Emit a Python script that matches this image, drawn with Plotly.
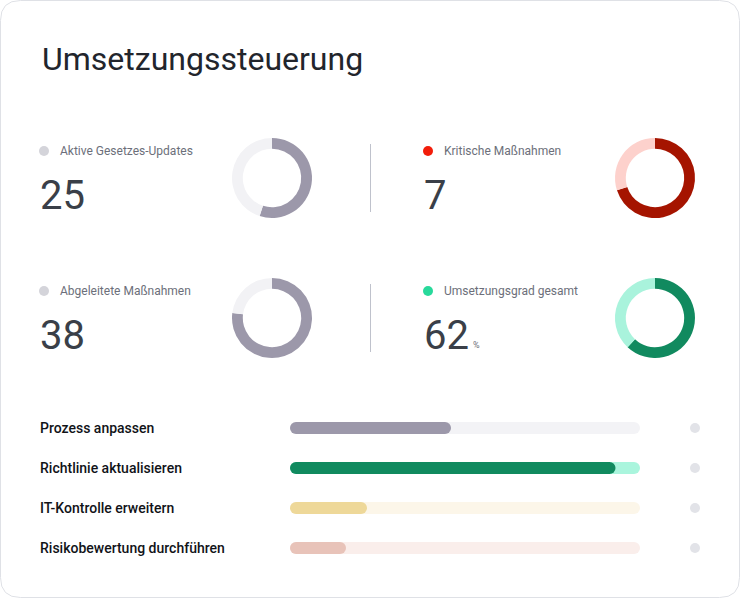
import plotly.graph_objects as go

W, H = 740, 598

# ---------------- data ----------------
title_text = "Umsetzungssteuerung"

kpi_labels = ["Aktive Gesetzes-Updates", "Kritische Maßnahmen",
              "Abgeleitete Maßnahmen", "Umsetzungsgrad gesamt"]
kpi_values = [25, 7, 38, 62]
kpi_units = ["", "", "", "%"]
ring_share = [55, 70, 77, 62]          # filled share of each ring (percent)
ring_direction = ["clockwise", "clockwise", "counterclockwise", "clockwise"]

task_labels = ["Prozess anpassen", "Richtlinie aktualisieren",
               "IT-Kontrolle erweitern", "Risikobewertung durchführen"]
task_progress = [46, 93, 22, 16]
task_total = [100, 100, 100, 100]

# ---------------- styles ----------------
FONT = "Roboto"
kpi_dot_colors = ["#d4d4da", "#f21d0a", "#d4d4da", "#28d99b"]
ring_fill = ["#9c98aa", "#a51400", "#9c98aa", "#118a5f"]
ring_track = ["#f2f2f5", "#fdd1cc", "#f2f2f5", "#a9f3dc"]
bar_fill = ["#9c98aa", "#118a5f", "#eed899", "#e8c3b9"]
bar_track = ["#f3f3f6", "#aaf5dd", "#fcf6e9", "#faeeeb"]

# KPI tile layout (pixel positions)
tile_x = [40, 424, 40, 424]
tile_label_y = [151, 151, 291, 291]
tile_num_y = [195, 195, 335, 335]
ring_cx = [272, 655, 272, 655]
ring_cy = [178, 178, 318, 318]
ring_r = 40


def px(x):
    return x / W


def py(y):
    return 1 - y / H


fig = go.Figure()

# donuts
for i in range(4):
    fig.add_trace(go.Pie(
        values=[ring_share[i], 100 - ring_share[i]],
        marker=dict(colors=[ring_fill[i], ring_track[i]], line=dict(width=0)),
        hole=0.73, sort=False, direction=ring_direction[i], rotation=0,
        textinfo="none", hoverinfo="skip", showlegend=False,
        domain=dict(x=[px(ring_cx[i] - ring_r), px(ring_cx[i] + ring_r)],
                    y=[py(ring_cy[i] + ring_r), py(ring_cy[i] - ring_r)]),
    ))

# progress bars (explicit base -> plotly rounds both ends)
for vals, cols in ((task_total, bar_track), (task_progress, bar_fill)):
    fig.add_trace(go.Bar(
        y=task_labels, x=vals, base=[0] * len(vals),
        orientation="h", width=0.3,
        marker=dict(color=cols, line=dict(width=0), cornerradius="50%"),
        hoverinfo="skip", showlegend=False, xaxis="x", yaxis="y"))

# status dots
fig.add_trace(go.Scatter(
    x=[0.5] * len(task_labels), y=task_labels, mode="markers",
    marker=dict(size=10, color="#e2e3e8"),
    hoverinfo="skip", showlegend=False, xaxis="x2", yaxis="y"))

shapes = []
# card with rounded corners
r = 20
x0, x1, y0, y1 = 0.5, 739.5, 0.5, 597.5
path = (f"M {px(x0 + r)},{py(y0)} L {px(x1 - r)},{py(y0)} "
        f"Q {px(x1)},{py(y0)} {px(x1)},{py(y0 + r)} "
        f"L {px(x1)},{py(y1 - r)} Q {px(x1)},{py(y1)} {px(x1 - r)},{py(y1)} "
        f"L {px(x0 + r)},{py(y1)} Q {px(x0)},{py(y1)} {px(x0)},{py(y1 - r)} "
        f"L {px(x0)},{py(y0 + r)} Q {px(x0)},{py(y0)} {px(x0 + r)},{py(y0)} Z")
shapes.append(dict(type="path", path=path, xref="paper", yref="paper",
                   fillcolor="white", line=dict(color="#dfe1e6", width=1),
                   layer="below"))
# dividers
for (ya, yb) in [(144, 212), (284, 352)]:
    shapes.append(dict(type="line", xref="paper", yref="paper",
                       x0=px(370.5), x1=px(370.5), y0=py(ya), y1=py(yb),
                       line=dict(color="#bfc2cc", width=1)))
# KPI dots
for i in range(4):
    cx, cy = tile_x[i] + 4, tile_label_y[i]
    shapes.append(dict(type="circle", xref="paper", yref="paper",
                       x0=px(cx - 5), x1=px(cx + 5), y0=py(cy + 5), y1=py(cy - 5),
                       fillcolor=kpi_dot_colors[i], line=dict(width=0)))

annotations = [dict(text=title_text, x=px(39.5), y=py(59), xref="paper", yref="paper",
                    xanchor="left", yanchor="middle", showarrow=False,
                    font=dict(family=FONT, size=32, color="#22252c", weight=400))]
for i in range(4):
    annotations.append(dict(text=kpi_labels[i], x=px(tile_x[i] + 18), y=py(tile_label_y[i]),
                            xref="paper", yref="paper", xanchor="left", yanchor="middle",
                            showarrow=False,
                            font=dict(family=FONT, size=12, color="#6c6f7a")))
    annotations.append(dict(text=str(kpi_values[i]), x=px(tile_x[i] - 2), y=py(tile_num_y[i]),
                            xref="paper", yref="paper", xanchor="left", yanchor="middle",
                            showarrow=False,
                            font=dict(family=FONT, size=40, color="#3a3f48")))
    if kpi_units[i]:
        annotations.append(dict(text=kpi_units[i], x=px(471), y=py(345),
                                xref="paper", yref="paper", xanchor="left",
                                yanchor="middle", showarrow=False,
                                font=dict(family=FONT, size=9, color="#6c6f7a")))
for lab in task_labels:
    annotations.append(dict(text=lab, x=px(38), y=lab, xref="paper", yref="y",
                            xanchor="left", yanchor="middle", showarrow=False,
                            font=dict(family=FONT, size=14, color="#111318", weight=500)))

fig.update_layout(
    width=W, height=H, margin=dict(l=0, r=0, t=0, b=0),
    paper_bgcolor="white", plot_bgcolor="rgba(0,0,0,0)",
    barmode="overlay",
    xaxis=dict(domain=[px(290), px(640)], range=[0, 100], visible=False,
               fixedrange=True),
    xaxis2=dict(domain=[px(685), px(705)], range=[0, 1], visible=False,
                fixedrange=True, anchor="y"),
    yaxis=dict(domain=[py(568), py(408)], type="category",
               categoryorder="array", categoryarray=task_labels,
               range=[3.5, -0.5], visible=False, fixedrange=True),
    shapes=shapes, annotations=annotations,
)

fig.write_html("out.html")
